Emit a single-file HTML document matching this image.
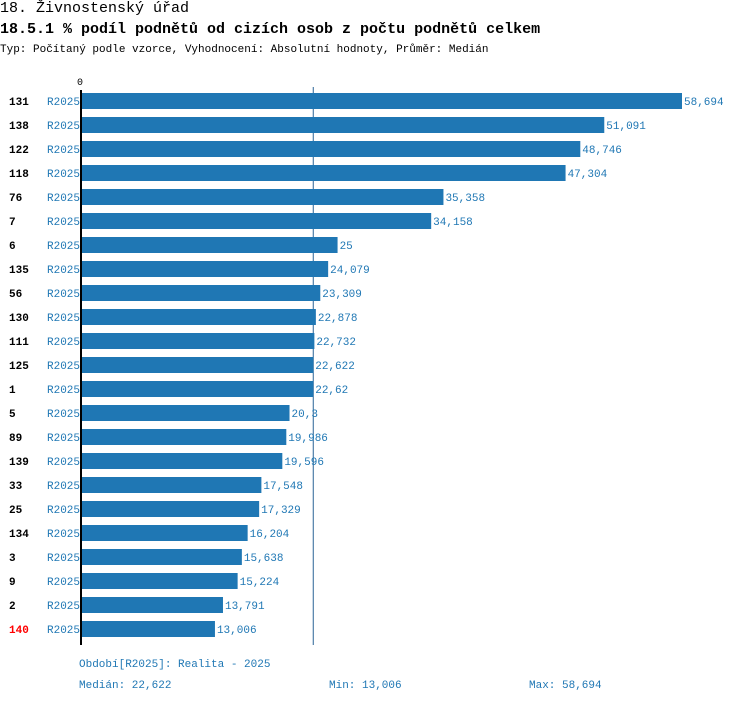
<!DOCTYPE html>
<html><head><meta charset="utf-8"><style>
body{margin:0;width:750px;height:704px;background:#fff;font-family:"Liberation Mono",monospace;position:relative;overflow:hidden}
.t{position:absolute;white-space:nowrap}
</style></head><body>
<div class="t" style="left:0;top:0;font-size:15px;">18. Živnostenský úřad</div>
<div class="t" style="left:0;top:21px;font-size:15px;font-weight:bold">18.5.1 % podíl podnětů od cizích osob z počtu podnětů celkem</div>
<div class="t" style="left:0;top:44px;font-size:11px">Typ: Počítaný podle vzorce, Vyhodnocení: Absolutní hodnoty, Průměr: Medián</div>
<svg id="chart" width="750" height="704" style="position:absolute;left:0;top:0"></svg>
<div class="t" style="left:79px;top:659px;font-size:11px;color:#1f77b4">Období[R2025]: Realita - 2025</div>
<div class="t" style="left:79px;top:680px;font-size:11px;color:#1f77b4">Medián: 22,622</div>
<div class="t" style="left:329px;top:680px;font-size:11px;color:#1f77b4">Min: 13,006</div>
<div class="t" style="left:529px;top:680px;font-size:11px;color:#1f77b4">Max: 58,694</div>
<script>
const categories=["131","138","122","118","76","7","6","135","56","130","111","125","1","5","89","139","33","25","134","3","9","2","140"];
const values=[58.694,51.091,48.746,47.304,35.358,34.158,25,24.079,23.309,22.878,22.732,22.622,22.62,20.3,19.986,19.596,17.548,17.329,16.204,15.638,15.224,13.791,13.006];
const valueLabels=["58,694","51,091","48,746","47,304","35,358","34,158","25","24,079","23,309","22,878","22,732","22,622","22,62","20,3","19,986","19,596","17,548","17,329","16,204","15,638","15,224","13,791","13,006"];
const highlighted=["140"];
const median=22.622;
const svg=document.getElementById('chart');
const NS='http://www.w3.org/2000/svg';
const x0=82, scale=(682-82)/58.694;
const xs=v=>x0+v*scale;
const yc=i=>101+i*24;
function mk(tag,attrs,txt){const e=document.createElementNS(NS,tag);for(const k in attrs)e.setAttribute(k,attrs[k]);if(txt!=null)e.textContent=txt;svg.appendChild(e);return e;}
const m=mk('line',{x1:xs(median),x2:xs(median),y1:87,y2:645,stroke:'#2a6496','stroke-width':1});


const z=mk('text',{x:77,y:85,'font-size':10,'font-family':'Liberation Mono, monospace'},'0');


categories.forEach((c,i)=>{
  const y=yc(i);
  const b=mk('rect',{x:x0,y:y-8,width:xs(values[i])-x0,height:16,fill:'#1f77b4'});
  
  
  const l=mk('text',{x:9,y:y+4,'font-size':11,'font-weight':'bold','font-family':'Liberation Mono, monospace',fill:highlighted.includes(c)?'#ff0000':'#000'},c);
  
  
  const s=mk('text',{x:47,y:y+4,'font-size':11,'font-family':'Liberation Mono, monospace',fill:'#1f77b4'},'R2025');
  
  
  const v=mk('text',{x:xs(values[i])+2,y:y+4,'font-size':11,'font-family':'Liberation Mono, monospace',fill:'#1f77b4'},valueLabels[i]);
  
  
});
const ax=mk('line',{x1:81,x2:81,y1:90,y2:645,stroke:'#000','stroke-width':2});


</script>
</body></html>
